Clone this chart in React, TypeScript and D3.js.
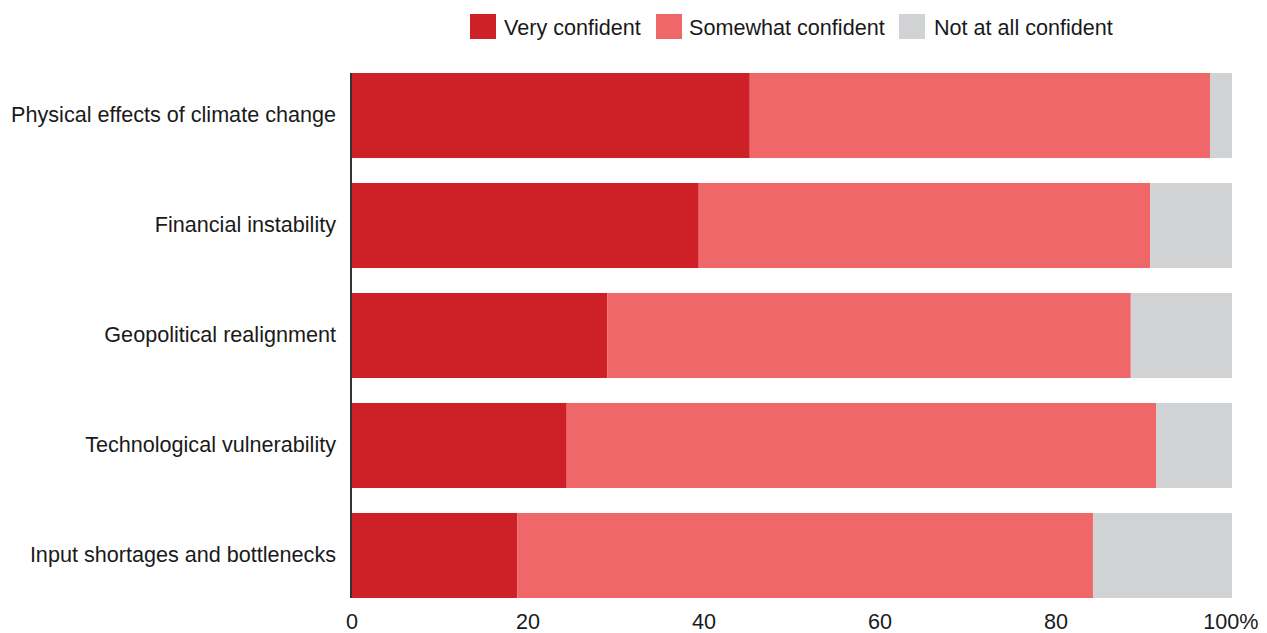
import React from "react";
import * as d3 from "d3";

const categories = [
  "Physical effects of climate change",
  "Financial instability",
  "Geopolitical realignment",
  "Technological vulnerability",
  "Input shortages and bottlenecks",
];

const veryConfident = [45.2, 39.4, 29.0, 24.4, 18.8];
const somewhatConfident = [52.3, 51.3, 59.5, 67.0, 65.4];
const notAtAllConfident = [2.5, 9.3, 11.5, 8.6, 15.8];

const seriesNames = ["Very confident", "Somewhat confident", "Not at all confident"];
const seriesColors = ["#CD2027", "#F0676A", "#D1D2D4"];

const xTicks = [0, 20, 40, 60, 80, 100];

const W = 1267;
const H = 633;
const FONT = "'Liberation Sans', Arial, Helvetica, sans-serif";
const FS = 21.6;

export default function App() {
  const x = d3.scaleLinear().domain([0, 100]).range([352, 1232]);
  const y = d3
    .scaleBand<string>()
    .domain(categories)
    .range([73, 598])
    .paddingInner(0.227)
    .paddingOuter(0);

  const rows = categories.map((c, i) => ({
    category: c,
    v0: veryConfident[i],
    v1: somewhatConfident[i],
    v2: notAtAllConfident[i],
  }));
  const stack = d3.stack<any>().keys(["v0", "v1", "v2"]);
  const layers = stack(rows);

  const legendItems = [
    { swatch: 470, text: 504 },
    { swatch: 656, text: 689 },
    { swatch: 899, text: 934 },
  ];

  return (
    <svg
      width={W}
      height={H}
      style={{ position: "fixed", left: 0, top: 0, background: "#fff" }}
      fontFamily={FONT}
    >
      {/* legend */}
      {seriesNames.map((name, i) => (
        <g key={name}>
          <rect x={legendItems[i].swatch} y={14} width={26} height={25} fill={seriesColors[i]} />
          <text x={legendItems[i].text} y={34.5} fontSize={FS} fill="#1a1a1a">
            {name}
          </text>
        </g>
      ))}

      {/* stacked bars */}
      {layers.map((layer, li) => (
        <g key={li} fill={seriesColors[li]}>
          {layer.map((d, i) => (
            <rect
              key={i}
              x={x(d[0])}
              y={y(categories[i])}
              width={x(d[1]) - x(d[0])}
              height={y.bandwidth()}
            />
          ))}
        </g>
      ))}

      {/* category labels */}
      {categories.map((c) => (
        <text
          key={c}
          x={336}
          y={(y(c) as number) + y.bandwidth() / 2}
          dy="0.29em"
          textAnchor="end"
          fontSize={FS}
          fill="#1a1a1a"
        >
          {c}
        </text>
      ))}

      {/* axis line */}
      <line x1={351} x2={351} y1={73} y2={598} stroke="#333" strokeWidth={2} />

      {/* x tick labels */}
      {xTicks.map((t) => (
        <text
          key={t}
          x={t === 100 ? x(t) + 26.5 : x(t)}
          y={629}
          textAnchor={t === 100 ? "end" : "middle"}
          fontSize={FS}
          fill="#1a1a1a"
        >
          {t === 100 ? "100%" : t}
        </text>
      ))}
    </svg>
  );
}
